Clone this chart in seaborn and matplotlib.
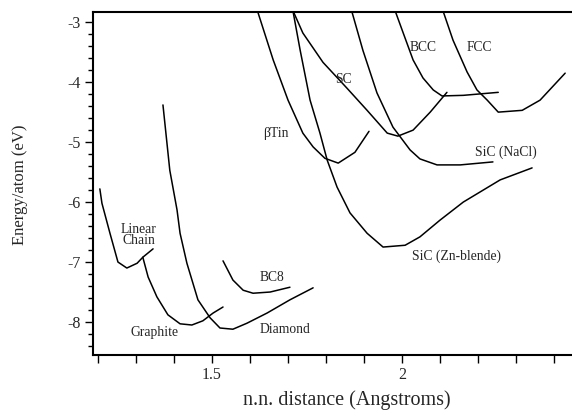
import numpy as np
import pandas as pd
import matplotlib
matplotlib.use("Agg")
import matplotlib.pyplot as plt
from matplotlib.ticker import MultipleLocator, FuncFormatter
import seaborn as sns

# energy curves: n.n. distance (A) vs energy/atom (eV)
linear_chain_r = [1.205, 1.2105, 1.2316, 1.2526, 1.276, 1.303, 1.318, 1.345]
linear_chain_e = [-5.78, -6.02, -6.52, -7.0, -7.1, -7.02, -6.92, -6.78]

graphite_r = [1.318, 1.332, 1.355, 1.384, 1.416, 1.447, 1.476, 1.503, 1.529]
graphite_e = [-6.92, -7.25, -7.58, -7.88, -8.03, -8.05, -7.98, -7.85, -7.75]

diamond_r = [1.371, 1.389, 1.408, 1.416, 1.434, 1.463, 1.495, 1.521, 1.555, 1.592, 1.645, 1.705, 1.766]
diamond_e = [-4.38, -5.47, -6.13, -6.52, -7.02, -7.63, -7.93, -8.10, -8.12, -8.02, -7.85, -7.63, -7.43]

bc8_r = [1.529, 1.555, 1.582, 1.608, 1.653, 1.705]
bc8_e = [-6.98, -7.30, -7.47, -7.52, -7.50, -7.42]

btin_r = [1.618, 1.661, 1.700, 1.739, 1.766, 1.797, 1.832, 1.876, 1.913]
btin_e = [-2.78, -3.63, -4.30, -4.85, -5.08, -5.27, -5.35, -5.17, -4.82]

sc_r = [1.711, 1.739, 1.792, 1.855, 1.908, 1.961, 1.989, 2.029, 2.074, 2.118]
sc_e = [-2.78, -3.18, -3.67, -4.10, -4.47, -4.85, -4.90, -4.80, -4.50, -4.17]

sic_zb_r = [1.712, 1.732, 1.758, 1.784, 1.803, 1.829, 1.863, 1.908, 1.950, 2.008, 2.047, 2.100, 2.161, 2.258, 2.342]
sic_zb_e = [-2.78, -3.47, -4.30, -4.85, -5.30, -5.75, -6.18, -6.52, -6.75, -6.72, -6.58, -6.30, -6.00, -5.63, -5.43]

sic_nacl_r = [1.866, 1.897, 1.934, 1.976, 2.021, 2.047, 2.092, 2.153, 2.239]
sic_nacl_e = [-2.78, -3.47, -4.18, -4.75, -5.13, -5.28, -5.38, -5.38, -5.33]

bcc_r = [1.980, 2.003, 2.029, 2.055, 2.082, 2.105, 2.161, 2.253]
bcc_e = [-2.78, -3.18, -3.63, -3.93, -4.13, -4.23, -4.22, -4.17]

fcc_r = [2.106, 2.134, 2.171, 2.197, 2.224, 2.253, 2.316, 2.363, 2.429]
fcc_e = [-2.78, -3.30, -3.83, -4.13, -4.30, -4.50, -4.47, -4.30, -3.85]

curves = {
    "Linear Chain": (linear_chain_r, linear_chain_e),
    "Graphite": (graphite_r, graphite_e),
    "Diamond": (diamond_r, diamond_e),
    "BC8": (bc8_r, bc8_e),
    "βTin": (btin_r, btin_e),
    "SC": (sc_r, sc_e),
    "SiC (Zn-blende)": (sic_zb_r, sic_zb_e),
    "SiC (NaCl)": (sic_nacl_r, sic_nacl_e),
    "BCC": (bcc_r, bcc_e),
    "FCC": (fcc_r, fcc_e),
}

# label text and where it sits
label_text = ["Linear\nChain", "Graphite", "Diamond", "BC8", "βTin", "SC",
              "BCC", "FCC", "SiC (NaCl)", "SiC (Zn-blende)"]
label_r = [1.308, 1.35, 1.692, 1.658, 1.668, 1.845, 2.055, 2.203, 2.274, 2.142]
label_e = [-6.55, -8.17, -8.13, -7.25, -4.85, -3.95, -3.42, -3.42, -5.17, -6.9]

sns.set_theme(style="ticks")
plt.rcParams['font.family'] = ['Liberation Serif', 'DejaVu Serif']
plt.rcParams['axes.unicode_minus'] = False

fig = plt.figure(figsize=(5.72, 4.15), dpi=100)
ax = fig.add_axes([0.1626, 0.1446, 0.8374, 0.8265])

for name, (r, e) in curves.items():
    df = pd.DataFrame({"r": r, "e": e})
    sns.lineplot(data=df, x="r", y="e", sort=False, estimator=None,
                 color="black", linewidth=1.1, ax=ax)

for t, r, e in zip(label_text, label_r, label_e):
    ax.text(r, e, t, ha="center", va="center", fontsize=9.8,
            multialignment="center", linespacing=0.8)

ax.set_xlim(1.187, 2.447)
ax.set_ylim(-8.55, -2.83)
ax.xaxis.set_major_locator(MultipleLocator(0.5))
ax.xaxis.set_minor_locator(MultipleLocator(0.1))
ax.yaxis.set_major_locator(MultipleLocator(1))
ax.yaxis.set_minor_locator(MultipleLocator(0.2))
ax.xaxis.set_major_formatter(FuncFormatter(lambda v, p: "%g" % v))
ax.yaxis.set_major_formatter(FuncFormatter(lambda v, p: "%g" % v))
ax.tick_params(which="major", length=6, width=1, labelsize=11.5, color="black", pad=3)
ax.tick_params(which="minor", length=3.5, width=1, color="black")
ax.tick_params(axis="x", which="minor", length=6)
ax.spines["right"].set_visible(False)
for s in ["left", "bottom", "top"]:
    ax.spines[s].set_linewidth(1.5)
    ax.spines[s].set_color("black")

ax.set_xlabel("n.n. distance (Angstroms)", fontsize=14.5, va="center")
ax.xaxis.set_label_coords(0.53, -0.131)
ax.set_ylabel("Energy/atom (eV)", fontsize=12, va="center")
ax.yaxis.set_label_coords(-0.152, 0.496)

fig.savefig("out.png", dpi=100)
